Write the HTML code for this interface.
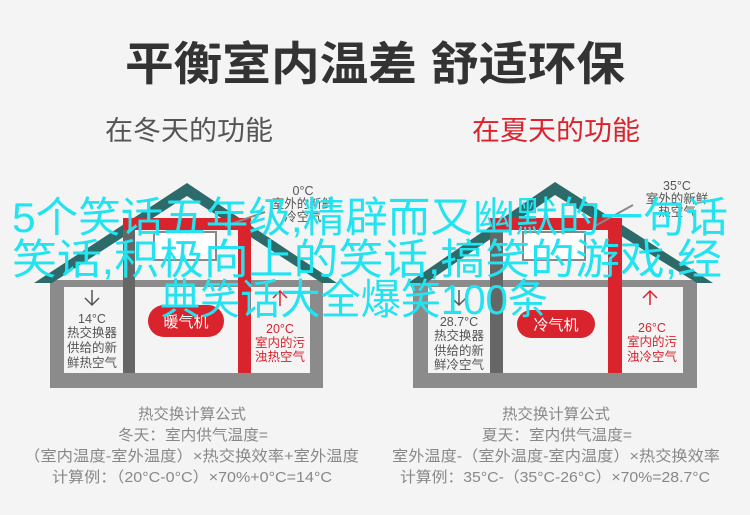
<!DOCTYPE html>
<html><head><meta charset="utf-8"><style>
html,body{margin:0;padding:0;background:#f4f4f4;}
svg{display:block;}
text{font-family:"Liberation Sans","Noto Sans CJK SC",sans-serif;}
</style></head><body>
<svg width="750" height="515" viewBox="0 0 750 515" xmlns="http://www.w3.org/2000/svg">
<rect width="750" height="515" fill="#f4f4f4"/>
<text x="125" y="80" textLength="500" lengthAdjust="spacingAndGlyphs" font-size="46" font-weight="bold" fill="#333">平衡室内温差 舒适环保</text>
<text x="105" y="140" textLength="168" lengthAdjust="spacingAndGlyphs" font-size="27" fill="#555">在冬天的功能</text>
<text x="472" y="140" textLength="168" lengthAdjust="spacingAndGlyphs" font-size="27" fill="#d9232d">在夏天的功能</text>

<!-- Left house -->
<g>
<rect x="50" y="280" width="273" height="108" fill="#8b8b8b"/>
<rect x="64" y="287" width="246" height="86" fill="#f4f4f4"/>
<polygon points="187,183 337,283 322,283 187,196 52,283 34,283" fill="#2d6b6b"/>
<rect x="123" y="218" width="12" height="155" fill="#666"/>
<rect x="123" y="218" width="128" height="12" fill="#d9232d"/>
<rect x="238" y="218" width="13" height="155" fill="#d9232d"/>
<rect x="154" y="232" width="62" height="28" fill="#fff" stroke="#888" stroke-width="2"/>
<line x1="265" y1="212" x2="225" y2="226" stroke="#888" stroke-width="2"/>
<rect x="148" y="305" width="76" height="32" rx="16" fill="#d9232d"/>
<text x="186" y="327" text-anchor="middle" font-size="15" fill="#fff">暖气机</text>
<path d="M92 290 V305 M85 298 L92 305 L99 298" stroke="#555" stroke-width="1.5" fill="none"/>
<g font-size="12.5" fill="#555" text-anchor="middle">
<text x="92" y="323">14°C</text><text x="92" y="337">热交换器</text><text x="92" y="352">供给的新</text><text x="92" y="367">鲜热空气</text>
<text x="303" y="195">0°C</text><text x="303" y="208">室外的新鲜</text><text x="303" y="221">冷空气</text>
</g>
<path d="M280 306 V291 M273 298 L280 291 L287 298" stroke="#d9232d" stroke-width="1.5" fill="none"/>
<g font-size="12.5" fill="#d9232d" text-anchor="middle">
<text x="280" y="333">20°C</text><text x="280" y="347">室内的污</text><text x="280" y="361">浊热空气</text>
</g>
</g>

<!-- Right house -->
<g>
<rect x="413" y="280" width="284" height="108" fill="#8b8b8b"/>
<rect x="428" y="287" width="255" height="86" fill="#f4f4f4"/>
<polygon points="555,182 713,283 697,283 555,195 426,283 408,283" fill="#2d6b6b"/>
<rect x="490" y="218" width="13" height="155" fill="#666"/>
<rect x="490" y="218" width="132" height="12" fill="#d9232d"/>
<rect x="608" y="218" width="14" height="155" fill="#d9232d"/>
<rect x="523" y="232" width="62" height="28" fill="#fff" stroke="#888" stroke-width="2"/>
<line x1="633" y1="205" x2="595" y2="226" stroke="#888" stroke-width="2"/>
<rect x="517" y="310" width="78" height="28" rx="14" fill="#d9232d"/>
<text x="556" y="330" text-anchor="middle" font-size="15" fill="#fff">冷气机</text>
<path d="M459 290 V305 M452 298 L459 305 L466 298" stroke="#555" stroke-width="1.5" fill="none"/>
<g font-size="12.5" fill="#555" text-anchor="middle">
<text x="459" y="326">28.7°C</text><text x="459" y="340">热交换器</text><text x="459" y="355">供给的新</text><text x="459" y="369">鲜冷空气</text>
<text x="677" y="190">35°C</text><text x="677" y="203">室外的新鲜</text><text x="677" y="216">热空气</text>
</g>
<path d="M650 305 V291 M643 298 L650 291 L657 298" stroke="#d9232d" stroke-width="1.5" fill="none"/>
<g font-size="12.5" fill="#d9232d" text-anchor="middle">
<text x="652" y="332">26°C</text><text x="652" y="346">室内的污</text><text x="652" y="361">浊冷空气</text>
</g>
</g>

<!-- formulas -->
<g font-size="15" fill="#888" lengthAdjust="spacingAndGlyphs">
<text x="138" y="419" textLength="108" lengthAdjust="spacingAndGlyphs">热交换计算公式</text>
<text x="118" y="440" textLength="150" lengthAdjust="spacingAndGlyphs">冬天：室内供气温度=</text>
<text x="24" y="461" textLength="335" lengthAdjust="spacingAndGlyphs">（室内温度-室外温度）×热交换效率+室外温度</text>
<text x="52" y="482" textLength="280" lengthAdjust="spacingAndGlyphs">计算例：（20°C-0°C）×70%+0°C=14°C</text>
<text x="502" y="419" textLength="108" lengthAdjust="spacingAndGlyphs">热交换计算公式</text>
<text x="482" y="440" textLength="150" lengthAdjust="spacingAndGlyphs">夏天：室内供气温度=</text>
<text x="392" y="461" textLength="328" lengthAdjust="spacingAndGlyphs">室外温度-（室外温度-室内温度）×热交换效率</text>
<text x="400" y="482" textLength="310" lengthAdjust="spacingAndGlyphs">计算例：35°C-（35°C-26°C）×70%=28.7°C</text>
</g>

<!-- overlay -->
<g font-size="42" fill="#22e3ef">
<text x="12" y="232" textLength="716" lengthAdjust="spacingAndGlyphs">5个笑话五年级,精辟而又幽默的一句话</text>
<text x="12" y="274" textLength="710" lengthAdjust="spacingAndGlyphs">笑话,积极向上的笑话,搞笑的游戏,经</text>
<text x="160" y="314" textLength="388" lengthAdjust="spacingAndGlyphs">典笑话大全爆笑100条</text>
</g>
</svg>
</body></html>
